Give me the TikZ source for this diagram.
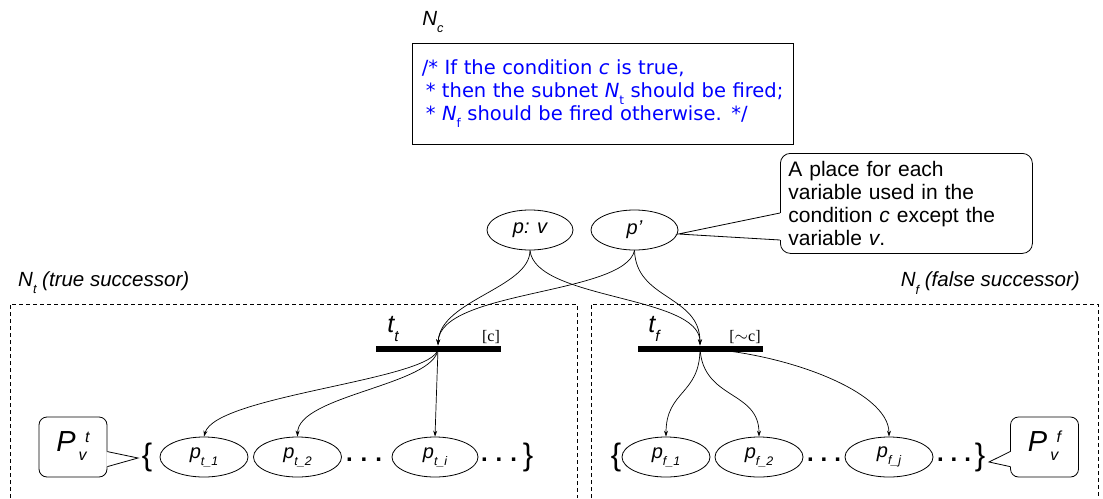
\documentclass[tikz,border=0pt]{standalone}
\usepackage{fontspec}
\setmainfont{Liberation Sans}
\newfontfamily\codefont{DejaVu Sans}
\newfontfamily\guardfont{Liberation Serif}
\usetikzlibrary{arrows.meta,calc,shapes.geometric}

% lowered, smaller subscript in text
\newcommand\lowtext[1]{\raisebox{-0.35em}{\scalebox{0.62}{#1}}}
% place set symbol P with stacked indices
\newcommand\placeset[1]{P\kern3pt\raisebox{0.02em}{\fontsize{16}{20}\selectfont\begin{tabular}[c]{@{}l@{}}\hspace{0.4em}#1\\[-2pt]v\end{tabular}}}

\begin{document}
\begin{tikzpicture}[x=1pt,y=-1pt,
  place/.style={draw, line width=0.8pt, ellipse, minimum width=88pt, minimum height=40pt, inner sep=0pt,
    font=\fontsize{20}{22}\selectfont\itshape},
  trans/.style={fill=black, minimum width=125pt, minimum height=6pt, inner sep=0pt},
  arc/.style={-{Stealth[length=6pt,width=4pt]}, line width=0.7pt},
  subnet/.style={line width=0.7pt, dash pattern=on 4pt off 3pt},
  label/.style={font=\fontsize{20.5}{22}\selectfont\itshape, inner sep=0pt},
  tlabel/.style={font=\fontsize{25}{27}\selectfont\itshape, inner sep=0pt},
  guard/.style={font=\guardfont\fontsize{16}{18}\selectfont, inner sep=0pt},
  note/.style={draw, line width=0.8pt, rounded corners=10pt, align=left, inner sep=0pt,
    font=\fontsize{21}{23}\selectfont},
  setbox/.style={draw, line width=0.8pt, rounded corners=8pt, minimum width=68pt, minimum height=60pt,
    inner sep=0pt, font=\fontsize{29}{30}\selectfont\itshape},
  brace/.style={font=\fontsize{31}{32}\selectfont, inner sep=0pt},
  dots/.style={font=\fontsize{24}{24}\selectfont\bfseries, inner sep=0pt},
  codebox/.style={draw, line width=0.8pt, minimum width=381pt, minimum height=101pt,
    align=left, text width=373pt, inner xsep=4pt, text=blue,
    font=\codefont\fontsize{19.5}{23}\selectfont}
]
\useasboundingbox (0,0) rectangle (1103,498);

% condition subnet
\node[label] (nc) at (433,22) {N\lowtext{c}};
\node[codebox] (code) at (602.5,93.5) {\hspace*{0.3em}/* If the condition \textit{c} is true,\\
\hspace*{0.5em}* then the subnet \textit{N}\lowtext{t} should be fired;\\
\hspace*{0.5em}* \textit{N}\lowtext{f} should be fired otherwise. */\\[-1pt]};

% input places
\node[place, minimum width=86pt] (pv) at (530,230) {p: v};
\node[place, minimum width=87pt] (pp) at (634.5,230) {p'};

% note on p'
\node[note, minimum width=252pt, minimum height=100pt, text width=236pt, anchor=north west]
  (cond) at (780,153) {A place for each\\variable used in the\\condition \textit{c} except the\\variable \textit{v}.};
\coordinate (cu) at ($(cond.north west)+(0,60)$);
\coordinate (cl) at ($(cond.north west)+(0,87)$);
\coordinate (ctip) at ($(pp.east)+(0,4)$);
\fill[white] ($(cu)+(1,0)$) -- (ctip) -- ($(cl)+(1,0)$) -- cycle;
\draw[line width=0.8pt] (cu) -- (ctip) -- (cl);

% subnet frames
\node[label, anchor=west] (ntl) at (18,283) {N\lowtext{t} (true successor)};
\node[label, anchor=east] (nfl) at (1080,283) {N\lowtext{f} (false successor)};
\draw[subnet] (10,498) -- (10,304) -- (577,304) -- (577,498);
\draw[subnet] (591,498) -- (591,304) -- (1098,304) -- (1098,498);

% transitions
\node[trans] (tt) at (438,348.5) {};
\node[trans] (tf) at (700,348.5) {};
\node[tlabel] (ttl) at (393,329) {t\lowtext{t}};
\node[tlabel] (tfl) at (654,329) {t\lowtext{f}};
\node[guard] (gt) at (491,337) {[c]};
\node[guard] (gf) at (745,337) {[$\sim$c]};

% arcs into the transitions
\draw[arc] (pv.south) .. controls (530,288) and (440,300) .. (tt.north);
\draw[arc] (pp.south) .. controls (625,295) and (440,290) .. (tt.north);
\draw[arc] (pv.south) .. controls (535,300) and (700,295) .. (tf.north);
\draw[arc] (pp.south) .. controls (636,300) and (700,295) .. (tf.north);

% output places of t_t
\node[place] (pt1) at (204,457) {p\lowtext{t\_1}};
\node[place] (pt2) at (297.5,457) {p\lowtext{t\_2}};
\node[place, minimum width=86pt] (pti) at (435,457) {p\lowtext{t\_i}};
\node[dots] (dt1) at (364,460) {.\hspace{8pt}.\hspace{8pt}.};
\node[dots] (dt2) at (499,460) {.\hspace{8pt}.\hspace{8pt}.};
\node[brace] (bt1) at (147,457) {\{};
\node[brace] (bt2) at (528,457) {\}};

\draw[arc] (tt.center) .. controls (436,380) and (215,395) .. (pt1.north);
\draw[arc] (tt.center) .. controls (436,385) and (298,395) .. (pt2.north);
\draw[arc] (tt.center) -- (pti.north);

% output places of t_f
\node[place] (pf1) at (666,457) {p\lowtext{f\_1}};
\node[place] (pf2) at (759,457) {p\lowtext{f\_2}};
\node[place] (pfj) at (889,457) {p\lowtext{f\_j}};
\node[dots] (df1) at (824,460) {.\hspace{7pt}.\hspace{7pt}.};
\node[dots] (df2) at (954,460) {.\hspace{7pt}.\hspace{7pt}.};
\node[brace] (bf1) at (616,457) {\{};
\node[brace] (bf2) at (980,457) {\}};

\draw[arc] (tf.center) .. controls (700,395) and (666,390) .. (pf1.north);
\draw[arc] (tf.center) .. controls (703,400) and (759,390) .. (pf2.north);
\draw[arc] (tf.center) .. controls (780,352) and (889,390) .. (pfj.north);

% place sets
\node[setbox] (svt) at (73,447) {\placeset{t}};
\coordinate (su) at ($(svt.north east)+(0,35)$);
\coordinate (sl) at ($(svt.north east)+(0,50)$);
\coordinate (stip) at (138,458);
\fill[white] ($(su)+(-1,0)$) -- (stip) -- ($(sl)+(-1,0)$) -- cycle;
\draw[line width=0.8pt] (su) -- (stip) -- (sl);

\node[setbox] (svf) at (1044.5,447) {\placeset{f}};
\coordinate (fu) at ($(svf.north west)+(0,35)$);
\coordinate (fl) at ($(svf.north west)+(0,50)$);
\coordinate (ftip) at (989,462);
\fill[white] ($(fu)+(1,0)$) -- (ftip) -- ($(fl)+(1,0)$) -- cycle;
\draw[line width=0.8pt] (fu) -- (ftip) -- (fl);
\end{tikzpicture}
\end{document}
